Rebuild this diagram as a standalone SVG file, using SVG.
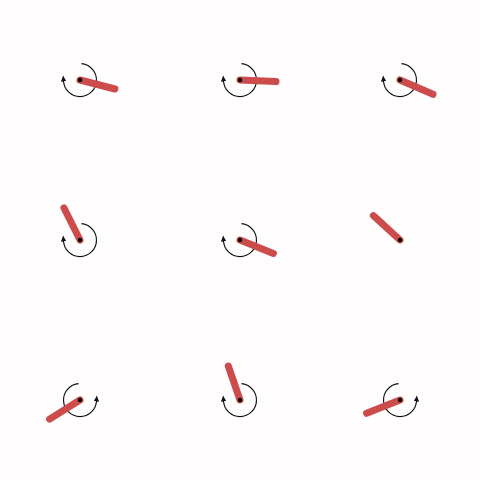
<svg xmlns="http://www.w3.org/2000/svg" width="480" height="480" viewBox="0 0 480 480">
<style>
.rod{stroke:#cc4c4c;stroke-width:7;stroke-linecap:round;fill:none}
.pivot{fill:#000}
.arc{stroke:#111;stroke-width:1.2;fill:none;marker-end:url(#ah)}
</style>
<defs>
<marker id="ah" markerUnits="userSpaceOnUse" viewBox="0 -3 7 6" refX="0.5" refY="0" markerWidth="7" markerHeight="6" orient="auto">
<path d="M0,-2.6 L6,0 L0,2.6 z" fill="#111"/>
</marker>
</defs>
<rect width="480" height="480" fill="#fffdfd"/>
<g id="connectors">
<path class="arc" d="M81.4,63.6 A16.5,16.5 0 1 1 63.5,81"/>
<path class="arc" d="M241.4,63.6 A16.5,16.5 0 1 1 223.5,81"/>
<path class="arc" d="M401.4,63.6 A16.5,16.5 0 1 1 383.5,81"/>
<path class="arc" d="M81.4,223.6 A16.5,16.5 0 1 1 63.5,241"/>
<path class="arc" d="M241.4,223.6 A16.5,16.5 0 1 1 223.5,241"/>
<path class="arc" d="M78.6,383.6 A16.5,16.5 0 1 0 96.5,401"/>
<path class="arc" d="M241.4,383.6 A16.5,16.5 0 1 1 223.5,401"/>
<path class="arc" d="M398.6,383.6 A16.5,16.5 0 1 0 416.5,401"/>
</g>
<g id="p1"><line class="rod" x1="80" y1="80" x2="114.9" y2="89"/><circle class="pivot" cx="80" cy="80" r="2.2"/></g>
<g id="p2"><line class="rod" x1="240" y1="80" x2="276" y2="81.6"/><circle class="pivot" cx="240" cy="80" r="2.2"/></g>
<g id="p3"><line class="rod" x1="400" y1="80" x2="433" y2="94.3"/><circle class="pivot" cx="400" cy="80" r="2.2"/></g>
<g id="p4"><line class="rod" x1="80" y1="240" x2="63.9" y2="207.8"/><circle class="pivot" cx="80" cy="240" r="2.2"/></g>
<g id="p5"><line class="rod" x1="240" y1="240" x2="273.4" y2="253.4"/><circle class="pivot" cx="240" cy="240" r="2.2"/></g>
<g id="p6"><line class="rod" x1="400" y1="240" x2="373.4" y2="215.7"/><circle class="pivot" cx="400" cy="240" r="2.2"/></g>
<g id="p7"><line class="rod" x1="80" y1="400" x2="49.6" y2="419.1"/><circle class="pivot" cx="80" cy="400" r="2.2"/></g>
<g id="p8"><line class="rod" x1="240" y1="400" x2="228.3" y2="366"/><circle class="pivot" cx="240" cy="400" r="2.2"/></g>
<g id="p9"><line class="rod" x1="400" y1="400" x2="366.6" y2="413.3"/><circle class="pivot" cx="400" cy="400" r="2.2"/></g>
</svg>
